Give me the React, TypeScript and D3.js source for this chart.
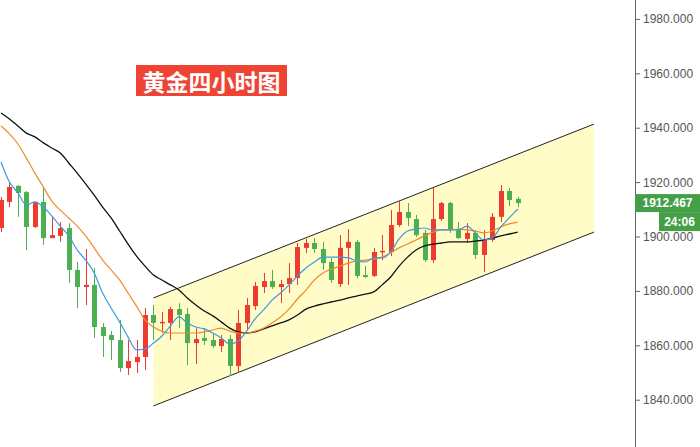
import React from "react";
import * as d3 from "d3";

const opens = [1903.3, 1912.9, 1918.8, 1916.5, 1903.7, 1912.9, 1899.6, 1900.4, 1903.3, 1887.9, 1881.6, 1882.4, 1866.9, 1864.0, 1862.1, 1851.8, 1854.0, 1855.9, 1871.3, 1868.4, 1868.4, 1873.5, 1871.7, 1861.0, 1862.9, 1862.1, 1859.9, 1862.5, 1852.6, 1868.4, 1874.6, 1881.6, 1883.8, 1881.6, 1882.7, 1884.9, 1896.0, 1897.8, 1895.6, 1890.8, 1882.7, 1896.0, 1898.2, 1886.0, 1885.7, 1894.5, 1894.5, 1904.4, 1909.2, 1906.6, 1901.5, 1891.5, 1906.6, 1912.5, 1902.6, 1899.3, 1901.5, 1893.4, 1898.9, 1907.4, 1916.9, 1914.0];
const closes = [1913.6, 1918.4, 1916.2, 1903.7, 1912.9, 1899.6, 1900.7, 1903.3, 1887.9, 1881.6, 1882.4, 1866.9, 1863.6, 1862.1, 1851.8, 1854.4, 1855.9, 1871.3, 1868.4, 1868.8, 1873.5, 1871.3, 1861.0, 1862.5, 1861.8, 1859.9, 1862.5, 1852.6, 1868.4, 1875.0, 1882.0, 1883.8, 1881.6, 1882.7, 1884.9, 1896.3, 1897.8, 1895.6, 1890.4, 1884.2, 1896.0, 1898.2, 1885.7, 1885.3, 1894.5, 1894.9, 1904.4, 1909.2, 1907.0, 1900.7, 1891.5, 1906.6, 1912.5, 1902.6, 1899.6, 1901.5, 1893.4, 1898.9, 1907.4, 1916.9, 1913.6, 1912.467];
const highs = [1914.7, 1919.9, 1919.1, 1916.9, 1912.9, 1918.4, 1907.4, 1905.5, 1905.1, 1890.8, 1895.6, 1888.6, 1868.4, 1865.4, 1869.5, 1862.1, 1862.1, 1873.9, 1875.0, 1872.4, 1874.3, 1875.7, 1873.9, 1866.5, 1866.5, 1864.7, 1864.0, 1864.0, 1873.2, 1877.6, 1883.5, 1886.8, 1887.9, 1884.2, 1890.4, 1897.8, 1899.3, 1899.6, 1898.2, 1892.3, 1900.7, 1902.9, 1898.9, 1889.3, 1896.0, 1900.7, 1909.9, 1913.2, 1912.5, 1908.1, 1902.6, 1918.0, 1912.9, 1912.9, 1905.5, 1905.1, 1902.6, 1902.6, 1908.8, 1919.1, 1918.0, 1914.7];
const lows = [1901.8, 1911.0, 1907.4, 1895.2, 1903.3, 1897.1, 1899.6, 1898.2, 1883.1, 1873.9, 1875.0, 1862.9, 1855.9, 1854.8, 1850.4, 1849.3, 1850.0, 1851.1, 1862.1, 1864.7, 1862.1, 1866.5, 1852.9, 1853.3, 1860.3, 1859.2, 1857.7, 1848.9, 1850.0, 1865.8, 1873.2, 1879.4, 1880.9, 1875.7, 1879.4, 1882.4, 1894.1, 1894.1, 1887.9, 1883.1, 1881.6, 1882.4, 1884.9, 1884.9, 1885.3, 1891.5, 1893.0, 1903.7, 1904.0, 1900.0, 1890.8, 1890.4, 1905.9, 1901.5, 1899.3, 1897.8, 1891.9, 1887.1, 1898.2, 1905.5, 1911.4, 1911.0];

const maFast = [1927.6, 1920.2, 1916.2, 1911.8, 1912.9, 1911.0, 1907.7, 1904.0, 1900.4, 1895.2, 1891.5, 1886.8, 1879.4, 1873.9, 1868.8, 1863.2, 1858.5, 1858.8, 1861.0, 1863.6, 1867.3, 1870.6, 1868.4, 1866.9, 1866.2, 1864.7, 1862.9, 1860.7, 1861.8, 1865.4, 1869.9, 1873.2, 1876.8, 1879.4, 1882.4, 1885.7, 1888.6, 1890.8, 1892.6, 1892.6, 1892.6, 1892.3, 1891.2, 1890.8, 1892.3, 1892.3, 1894.5, 1899.3, 1902.2, 1902.9, 1903.3, 1902.6, 1902.6, 1902.6, 1902.6, 1904.0, 1901.5, 1898.9, 1899.6, 1903.7, 1907.0, 1910.3];
const maMid = [1940.8, 1937.9, 1934.2, 1929.0, 1923.5, 1918.4, 1913.2, 1909.9, 1907.0, 1904.0, 1900.4, 1896.0, 1891.5, 1887.9, 1884.2, 1879.4, 1874.6, 1869.5, 1866.9, 1865.4, 1864.7, 1864.7, 1864.7, 1864.7, 1865.1, 1865.8, 1866.5, 1865.4, 1864.7, 1864.7, 1865.4, 1866.5, 1868.4, 1870.6, 1873.5, 1877.2, 1880.5, 1884.2, 1886.8, 1888.2, 1889.3, 1890.4, 1891.2, 1891.5, 1891.9, 1892.6, 1894.1, 1896.0, 1897.4, 1898.9, 1900.4, 1901.8, 1902.6, 1902.6, 1902.9, 1902.6, 1902.2, 1901.5, 1902.2, 1903.7, 1904.8, 1905.5];
const maSlow = [1945.6, 1943.4, 1940.8, 1938.2, 1936.8, 1934.6, 1932.7, 1930.9, 1927.2, 1923.5, 1919.5, 1915.4, 1911.0, 1907.0, 1902.2, 1897.4, 1893.0, 1889.3, 1886.0, 1884.2, 1882.4, 1880.5, 1877.6, 1875.0, 1872.8, 1871.0, 1868.8, 1866.5, 1865.1, 1864.7, 1865.1, 1866.2, 1867.3, 1868.4, 1869.5, 1871.3, 1873.5, 1874.6, 1875.4, 1876.1, 1876.8, 1877.6, 1878.3, 1879.0, 1879.8, 1882.4, 1885.3, 1889.3, 1892.6, 1895.2, 1896.7, 1897.4, 1897.8, 1898.2, 1898.2, 1898.2, 1898.5, 1898.9, 1899.6, 1900.4, 1901.1, 1901.8];

const channelUpper = [[18, 1877.6], [70, 1941.5]];
const channelLower = [[18, 1837.9], [70, 1901.8]];

const yTicks = [1840, 1860, 1880, 1900, 1920, 1940, 1960, 1980];
const lastPrice = "1912.467";
const countdown = "24:06";
const title = "黄金四小时图";

const W = 700;
const H = 447;
const AXIS_X = 635;
const RED = "#ee3b2f";
const GREEN = "#4caf50";

export default function App() {
  const x = d3.scaleLinear().domain([0, 61]).range([1, 517.7]);
  const y = d3.scaleLinear().domain([1840, 1980]).range([400.2, 19.4]);
  const line = d3
    .line<number>()
    .x((_, i) => x(i))
    .y((d) => y(d))
    .curve(d3.curveMonotoneX);

  const poly = [
    [x(channelUpper[0][0]), y(channelUpper[0][1])],
    [x(channelUpper[1][0]), y(channelUpper[1][1])],
    [x(channelLower[1][0]), y(channelLower[1][1])],
    [x(channelLower[0][0]), y(channelLower[0][1])],
  ];
  const bodyW = 5;
  const lastY = y(1912.467);

  return (
    <div style={{ position: "absolute", left: 0, top: 0 }}>
      <svg width={W} height={H} style={{ display: "block", background: "#fff" }}>
        <polygon points={poly.map((p) => p.join(",")).join(" ")} fill="#fffcc8" />
        <line x1={poly[0][0]} y1={poly[0][1]} x2={poly[1][0]} y2={poly[1][1]} stroke="#222" strokeWidth={1} />
        <line x1={poly[3][0]} y1={poly[3][1]} x2={poly[2][0]} y2={poly[2][1]} stroke="#222" strokeWidth={1} />

        {opens.map((o, i) => {
          const c = closes[i];
          const up = c >= o;
          const col = up ? RED : GREEN;
          const cx = Math.round(x(i)) + 0.5;
          const top = y(Math.max(o, c));
          const bot = y(Math.min(o, c));
          return (
            <g key={i}>
              <line x1={cx} x2={cx} y1={y(highs[i])} y2={y(lows[i])} stroke={col} strokeWidth={1} />
              <rect x={cx - bodyW / 2} y={top} width={bodyW} height={Math.max(1.5, bot - top)} fill={col} />
            </g>
          );
        })}

        <path d={line(maSlow) || ""} fill="none" stroke="#111" strokeWidth={1.3} />
        <path d={line(maMid) || ""} fill="none" stroke="#f08a2a" strokeWidth={1.2} />
        <path d={line(maFast) || ""} fill="none" stroke="#3d9be0" strokeWidth={1.2} />

        <line x1={AXIS_X + 0.5} x2={AXIS_X + 0.5} y1={0} y2={H} stroke="#666" strokeWidth={1} />
        {yTicks.map((t) => (
          <g key={t}>
            <line x1={AXIS_X} x2={AXIS_X + 5} y1={y(t)} y2={y(t)} stroke="#666" strokeWidth={1} />
            <text
              x={643}
              y={y(t)}
              dominantBaseline="central"
              fontFamily="Liberation Sans, Arial, sans-serif"
              fontSize={12}
              fill="#555"
            >
              {d3.format(".3f")(t)}
            </text>
          </g>
        ))}

        <rect x={AXIS_X} y={lastY - 9} width={W - AXIS_X} height={18} fill="#43a047" />
        <text x={667.5} y={lastY} textAnchor="middle" dominantBaseline="central" fontFamily="Liberation Sans, Arial, sans-serif" fontSize={12} fontWeight="bold" fill="#fff">
          {lastPrice}
        </text>
        <rect x={659} y={lastY + 9} width={W - 659} height={19} fill="#43a047" />
        <text x={679.5} y={lastY + 18.5} textAnchor="middle" dominantBaseline="central" fontFamily="Liberation Sans, Arial, sans-serif" fontSize={12} fontWeight="bold" fill="#fff">
          {countdown}
        </text>

        <rect x={136} y={65} width={151} height={31} fill="#ef4433" />
        <text x={211.5} y={81} textAnchor="middle" dominantBaseline="central" fontFamily="Noto Sans CJK SC, sans-serif" fontSize={23} fontWeight="bold" fill="#fff">
          {title}
        </text>
      </svg>
    </div>
  );
}
